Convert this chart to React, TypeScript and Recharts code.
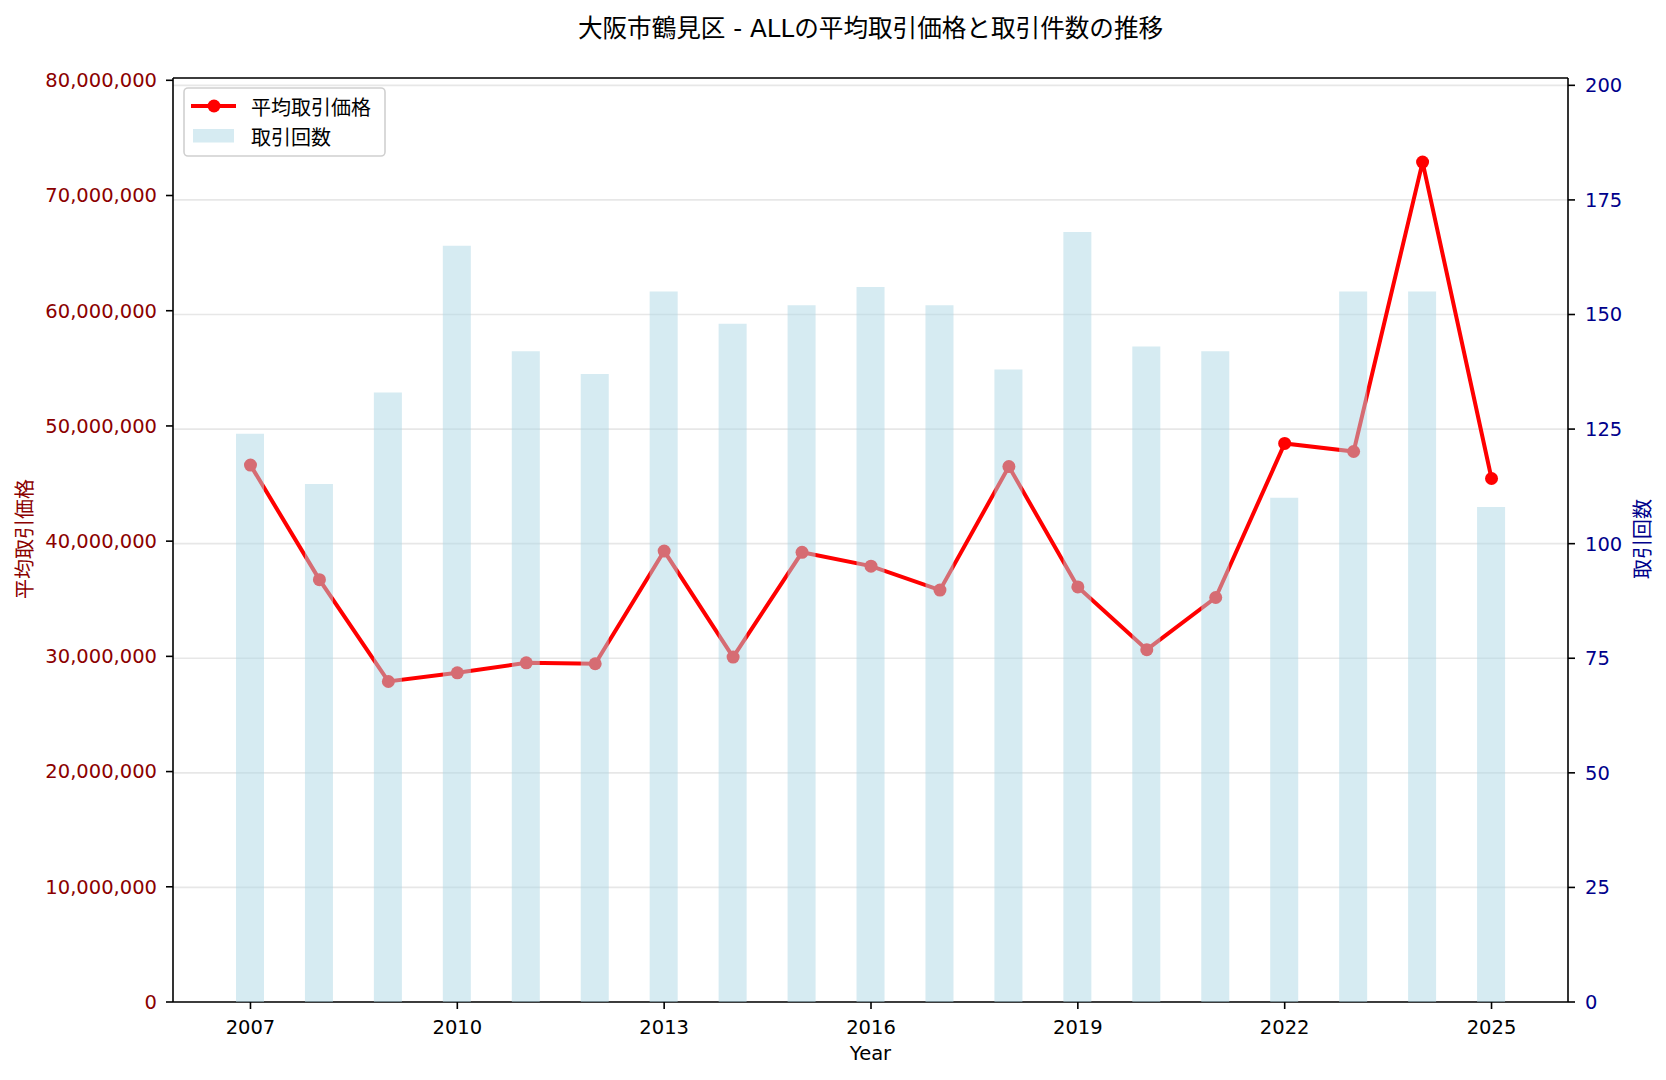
import React from "react";
import {
  ComposedChart,
  Line,
  Bar,
  XAxis,
  YAxis,
  CartesianGrid,
  Legend,
  ReferenceLine,
  Customized,
} from "recharts";

const years = [2007, 2008, 2009, 2010, 2011, 2012, 2013, 2014, 2015, 2016, 2017, 2018, 2019, 2020, 2021, 2022, 2023, 2024, 2025];
const avgPrice = [
  46600000, 36660000, 27820000, 28570000, 29440000, 29360000, 39140000, 29940000, 39030000, 37830000,
  35750000, 46470000, 36030000, 30580000, 35110000, 48480000, 47780000, 72900000, 45440000,
];
const tradeCount = [124, 113, 133, 165, 142, 137, 155, 148, 152, 156, 152, 138, 168, 143, 142, 110, 155, 155, 108];
const leftTicks = [0, 10000000, 20000000, 30000000, 40000000, 50000000, 60000000, 70000000, 80000000];
const rightTicks = [0, 25, 50, 75, 100, 125, 150, 175, 200];

const TITLE = "大阪市鶴見区 - ALLの平均取引価格と取引件数の推移";
const LEFT_LABEL = "平均取引価格";
const RIGHT_LABEL = "取引回数";
const X_LABEL = "Year";
const LINE_NAME = "平均取引価格";
const BAR_NAME = "取引回数";

const data = years.map((y, i) => ({ year: y, price: avgPrice[i], count: tradeCount[i] }));

const FONT = "'DejaVu Sans', 'Noto Sans CJK JP', sans-serif";
const CJK = "'Noto Sans CJK JP', 'DejaVu Sans', sans-serif";
const LEFT_MAX = 80200000;
const RIGHT_MAX = 201.6;

const fmt = (v: number) => v.toLocaleString("en-US");

const LegendBox = () => (
  <svg width={203} height={70} style={{ display: "block" }}>
    <rect x={1} y={1} width={201} height={68} rx={4} ry={4} fill="#ffffff" fillOpacity={0.8} stroke="#d0d0d0" strokeWidth={1.6} />
    <line x1={8} y1={19} x2={53} y2={19} stroke="#ff0000" strokeWidth={4} />
    <circle cx={31} cy={19} r={6.5} fill="#ff0000" />
    <text x={68} y={19} dominantBaseline="central" fontSize={20} fontFamily={CJK} fill="#000">{LINE_NAME}</text>
    <rect x={10} y={42} width={41} height={13.5} fill="#add8e6" fillOpacity={0.5} />
    <text x={68} y={49} dominantBaseline="central" fontSize={20} fontFamily={CJK} fill="#000">{BAR_NAME}</text>
  </svg>
);

const Labels = () => (
  <g>
    <text x={870.5} y={37} textAnchor="middle" fontSize={24.6} fontFamily={FONT} fill="#000">{TITLE}</text>
    <text x={870.5} y={1060} textAnchor="middle" fontSize={19.5} fontFamily={FONT} fill="#000">{X_LABEL}</text>
    <text
      x={23}
      y={539}
      textAnchor="middle"
      dominantBaseline="central"
      fontSize={20}
      fontFamily={CJK}
      fill="#8b0000"
      transform="rotate(-90, 23, 539)"
    >
      {LEFT_LABEL}
    </text>
    <text
      x={1641}
      y={539}
      textAnchor="middle"
      dominantBaseline="central"
      fontSize={20}
      fontFamily={CJK}
      fill="#00008b"
      transform="rotate(-90, 1641, 539)"
    >
      {RIGHT_LABEL}
    </text>
  </g>
);

export default function App() {
  return (
    <div style={{ position: "absolute", left: 0, top: 0, width: 1666, height: 1080, background: "#fff", fontFamily: FONT }}>
      <ComposedChart width={1666} height={1080} data={data} margin={{ top: 78, right: 8, bottom: 48, left: 13 }}>
        <CartesianGrid yAxisId="right" vertical={false} stroke="#b0b0b0" strokeOpacity={0.3} strokeWidth={1.6} />
        <XAxis
          dataKey="year"
          interval={2}
          height={30}
          padding={{ left: 43, right: 42 }}
          tickSize={7}
          tickMargin={11}
          axisLine={{ stroke: "#000", strokeWidth: 1.6 }}
          tickLine={{ stroke: "#000", strokeWidth: 1.6 }}
          tick={{ fill: "#000", fontSize: 19.5, fontFamily: FONT }}
        />
        <YAxis
          yAxisId="left"
          orientation="left"
          width={160}
          domain={[0, LEFT_MAX]}
          ticks={leftTicks}
          allowDataOverflow
          tickFormatter={fmt}
          tickSize={7}
          tickMargin={9}
          axisLine={{ stroke: "#000", strokeWidth: 1.6 }}
          tickLine={{ stroke: "#000", strokeWidth: 1.6 }}
          tick={{ fill: "#8b0000", fontSize: 19.5, fontFamily: FONT }}
        />
        <YAxis
          yAxisId="right"
          orientation="right"
          width={90}
          domain={[0, RIGHT_MAX]}
          ticks={rightTicks}
          allowDataOverflow
          tickSize={7}
          tickMargin={10}
          axisLine={{ stroke: "#000", strokeWidth: 1.6 }}
          tickLine={{ stroke: "#000", strokeWidth: 1.6 }}
          tick={{ fill: "#00008b", fontSize: 19.5, fontFamily: FONT }}
        />
        <ReferenceLine yAxisId="left" y={LEFT_MAX} stroke="#000" strokeWidth={1.6} ifOverflow="visible" />
        <Line
          yAxisId="left"
          dataKey="price"
          name={LINE_NAME}
          stroke="#ff0000"
          strokeWidth={4}
          dot={{ r: 6.5, fill: "#ff0000", stroke: "none" }}
          activeDot={false}
          isAnimationActive={false}
          zIndex={100}
        />
        <Bar
          yAxisId="right"
          dataKey="count"
          name={BAR_NAME}
          fill="#add8e6"
          fillOpacity={0.5}
          barSize={28}
          isAnimationActive={false}
          zIndex={2000}
        />
        <Legend
          layout="vertical"
          align="center"
          verticalAlign="middle"
          wrapperStyle={{ position: "absolute", left: 183, top: 87, width: 203, height: 70 }}
          content={() => <LegendBox />}
        />
        <Customized component={Labels} />
      </ComposedChart>
    </div>
  );
}
